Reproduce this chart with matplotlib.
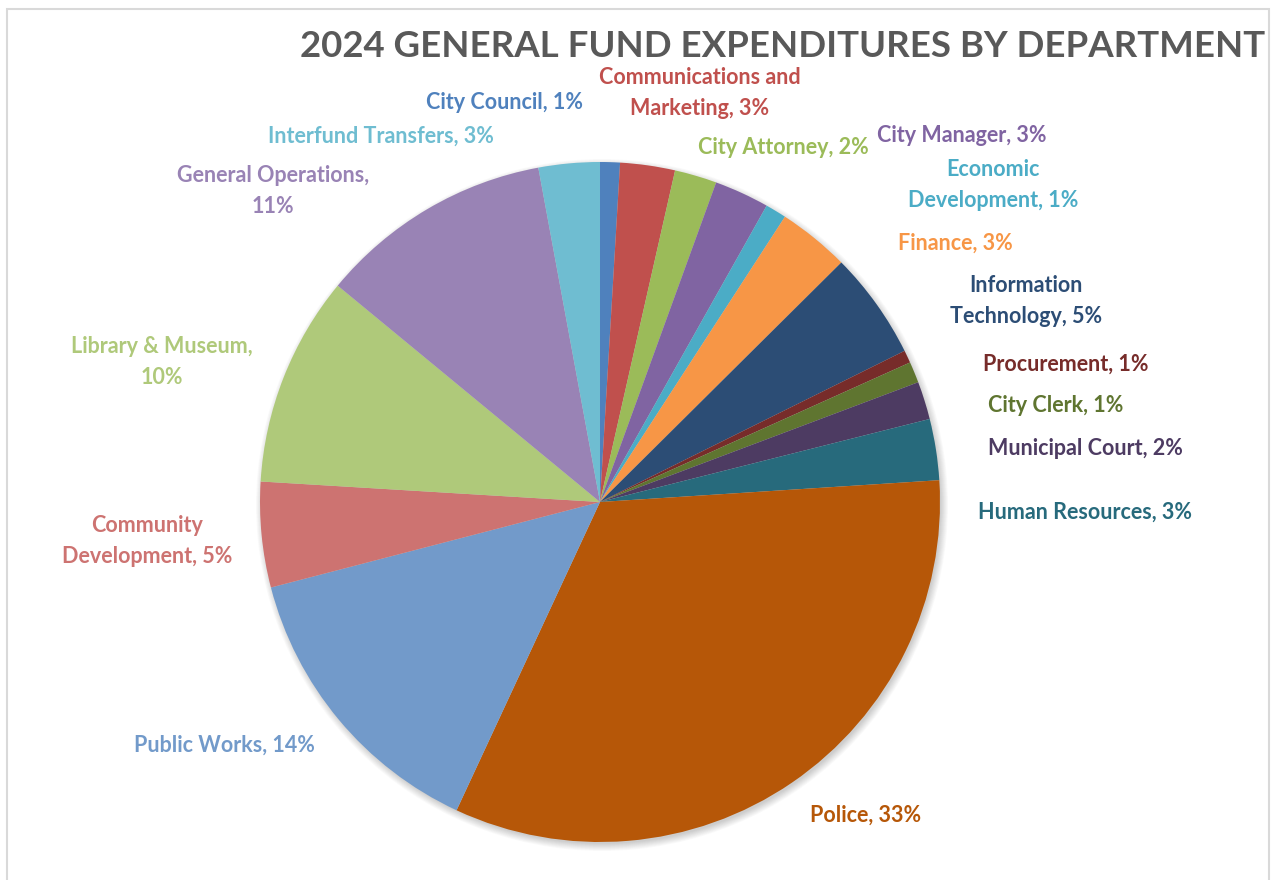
import matplotlib
matplotlib.use("Agg")
import matplotlib.pyplot as plt
from matplotlib.patches import Circle, Rectangle

plt.rcParams["font.family"] = ["Lato", "DejaVu Sans"]

# Department shares of the 2024 general fund (percent of total)
departments = [
    "City Council", "Communications and\nMarketing", "City Attorney", "City Manager",
    "Economic\nDevelopment", "Finance", "Information\nTechnology", "Procurement",
    "City Clerk", "Municipal Court", "Human Resources", "Police", "Public Works",
    "Community\nDevelopment", "Library & Museum", "General Operations",
    "Interfund Transfers",
]
shares = [0.94, 2.6, 2.0, 2.6, 1.0, 3.4, 5.1, 0.6, 1.0, 1.8, 2.9,
          32.9, 14.0, 5.0, 10.0, 11.1, 2.9]
colors = ["#4F81BD", "#C0504D", "#9BBB59", "#8064A2", "#4BACC6", "#F79646",
          "#2C4D75", "#772C2A", "#5F7530", "#4D3B62", "#276A7C", "#B65708",
          "#729ACA", "#CD7371", "#AFC97A", "#9983B5", "#6FBDD1"]
# percent goes on its own line for these labels
pct_on_new_line = {"Library & Museum", "General Operations"}

W, H = 1276, 880
# label anchor points, in pixel units from the top-left corner
label_xy = [(505, 102), (700, 93), (783, 147), (962, 135), (993, 185),
            (955, 243), (1026, 301), (1066, 364), (1056, 405), (1085, 448),
            (1085, 512), (866, 815), (224, 745), (147, 541), (162, 362),
            (273, 191), (381, 136)]
pie_center = (600, 502)
pie_radius = 340

fig = plt.figure(figsize=(W / 100, H / 100), dpi=100)
ax = fig.add_axes([0, 0, 1, 1])

cx, cy = pie_center[0], H - pie_center[1]

# soft drop shadow under the pie
for i in range(10):
    ax.add_patch(Circle((cx + 2, cy - 3), pie_radius + 6 - i * 0.8,
                        color="#000000", alpha=0.018, lw=0, zorder=0))

ax.pie(shares, colors=colors, startangle=90, counterclock=False,
       center=(cx, cy), radius=pie_radius,
       wedgeprops=dict(linewidth=0, zorder=1))

total = sum(shares)
for name, v, c, (lx, ly) in zip(departments, shares, colors, label_xy):
    sep = ",\n" if name in pct_on_new_line else ", "
    txt = f"{name}{sep}{v / total * 100:.0f}%"
    ax.text(lx, H - ly, txt, color=c, fontsize=15.5, fontweight="bold",
            ha="center", va="center", linespacing=1.62, zorder=3)

ax.text(1265, H - 46, "2024 GENERAL FUND EXPENDITURES BY DEPARTMENT",
        color="#595959", fontsize=26.4, fontweight="bold",
        ha="right", va="center")

# chart frame
ax.add_patch(Rectangle((7, -20), W - 14, H - 9 + 20, fill=False,
                       edgecolor="#D9D9D9", lw=1.5, zorder=4))

ax.set_xlim(0, W)
ax.set_ylim(0, H)
ax.set_aspect("equal")
ax.axis("off")

fig.savefig("out.png", dpi=100, facecolor="white")
